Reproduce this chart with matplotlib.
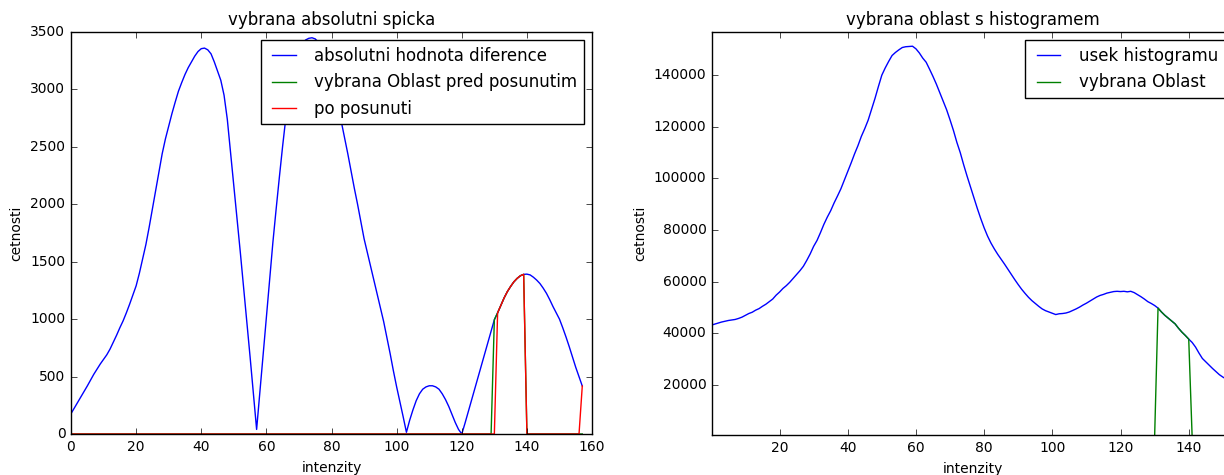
import numpy as np
import matplotlib
matplotlib.use("Agg")
import matplotlib.pyplot as plt

plt.style.use("classic")

# left chart: absolute difference of the two histograms
diff_x = np.arange(158)
diff_abs = [
    177, 225, 272, 320, 368, 418, 470, 520, 565, 610,
    650, 690, 740, 800, 860, 925, 985, 1055, 1130, 1210,
    1290, 1400, 1525, 1650, 1800, 1960, 2120, 2280, 2440, 2570,
    2680, 2790, 2890, 2985, 3060, 3130, 3190, 3240, 3290, 3330,
    3355, 3360, 3345, 3310, 3240, 3160, 3080, 2950, 2740, 2450,
    2160, 1870, 1580, 1280, 980, 670, 360, 40, 360, 690,
    1020, 1350, 1670, 1960, 2240, 2510, 2760, 2960, 3120, 3240,
    3330, 3390, 3430, 3445, 3450, 3440, 3410, 3360, 3290, 3200,
    3100, 2990, 2860, 2720, 2580, 2440, 2290, 2140, 2000, 1850,
    1700, 1580, 1460, 1340, 1220, 1100, 980, 840, 700, 550,
    410, 280, 150, 15, 120, 210, 290, 350, 390, 410,
    420, 420, 410, 390, 350, 300, 240, 170, 100, 40,
    0, 95, 195, 295, 395, 495, 595, 695, 795, 895,
    995, 1055, 1120, 1185, 1240, 1285, 1325, 1355, 1378, 1390,
    1392, 1385, 1365, 1340, 1310, 1270, 1225, 1170, 1110, 1055,
    1000, 925, 845, 760, 670, 580, 500, 418,
]
peak_before = list(range(130, 140))
peak_after = list(range(131, 140)) + [157]

# right chart: histogram section
hist_x = np.arange(153)
hist_vals = [
    43200, 43600, 44000, 44400, 44700, 45000, 45200, 45400, 45800, 46300,
    47000, 47700, 48200, 49000, 49600, 50500, 51300, 52300, 53300, 54800,
    56000, 57400, 58500, 59800, 61300, 62800, 64300, 66000, 68300, 70800,
    73700, 76000, 79000, 82200, 85000, 87500, 90500, 93200, 96000, 99300,
    102600, 106000, 109500, 112700, 116300, 119300, 122600, 126800, 131000, 135600,
    140000, 142800, 145300, 147600, 148800, 149800, 150700, 151000, 151100, 151200,
    150200, 148600, 146600, 145000, 142300, 139500, 136500, 133200, 130000, 126600,
    122700, 118600, 114000, 110000, 105300, 100900, 96700, 92500, 88400, 84500,
    80900, 77700, 75000, 72700, 70600, 68700, 66800, 64800, 62800, 60800,
    58900, 57100, 55500, 54000, 52700, 51600, 50500, 49500, 48800, 48300,
    47800, 47300, 47600, 47700, 47900, 48300, 48900, 49500, 50200, 51000,
    51700, 52500, 53300, 54100, 54700, 55100, 55600, 55900, 56200, 56300,
    56200, 56300, 56100, 56300, 55800, 55000, 54200, 53300, 52300, 51600,
    50800, 49800, 48300, 47000, 45900, 44800, 43700, 42000, 40500, 39200,
    37800, 36500, 34700, 32400, 30300, 29000, 27700, 26400, 25200, 24000,
    23100, 22300, 21500,
]
selected = list(range(131, 141))

diff_abs = np.array(diff_abs, dtype=float)
green_left = np.zeros_like(diff_abs)
green_left[peak_before] = diff_abs[peak_before]
red_left = np.zeros_like(diff_abs)
red_left[peak_after] = diff_abs[peak_after]

hist_vals = np.array(hist_vals, dtype=float)
green_right = np.zeros_like(hist_vals)
green_right[selected] = hist_vals[selected]

fig = plt.figure(figsize=(12.24, 4.75), dpi=100, facecolor="white")

ax1 = fig.add_axes([0.058, 0.0863, 0.4257, 0.8463])
ax1.plot(diff_x, diff_abs, "b", label="absolutni hodnota diference")
ax1.plot(diff_x, green_left, "g", label="vybrana Oblast pred posunutim")
ax1.plot(diff_x, red_left, "r", label="po posunuti")
ax1.set_xlim(0, 160)
ax1.set_ylim(0, 3500)
ax1.set_title("vybrana absolutni spicka", fontsize=12)
ax1.set_xlabel("intenzity", fontsize=10)
ax1.set_ylabel("cetnosti", fontsize=10)
ax1.tick_params(labelsize=10)
ax1.legend(loc="upper right", fontsize=12)

ax2 = fig.add_axes([0.5817, 0.0842, 0.4257, 0.8484])
ax2.plot(hist_x, hist_vals, "b", label="usek histogramu")
ax2.plot(hist_x, green_right, "g", label="vybrana Oblast")
ax2.set_xlim(0.2, 153)
ax2.set_ylim(660, 156700)
ax2.set_title("vybrana oblast s histogramem", fontsize=12)
ax2.set_xlabel("intenzity", fontsize=10)
ax2.set_ylabel("cetnosti", fontsize=10)
ax2.tick_params(labelsize=10)
ax2.legend(loc="upper right", fontsize=12)

fig.savefig("out.png", dpi=100, facecolor="white")
